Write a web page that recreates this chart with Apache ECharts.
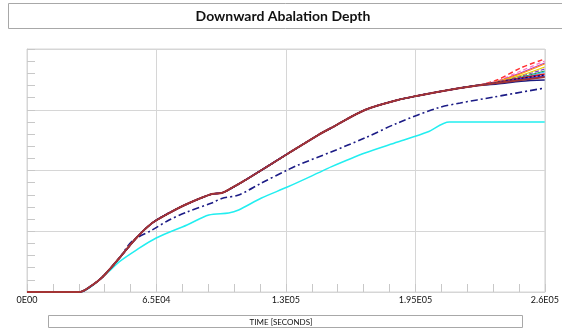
<!DOCTYPE html>
<html>
<head>
<meta charset="utf-8">
<script src="https://cdn.jsdelivr.net/npm/echarts@6/dist/echarts.min.js"></script>
<style>
	html, body { margin: 0; padding: 0; background: #fff; }
	#chart { width: 562px; height: 331px; }
</style>
</head>
<body>
<div id="chart"></div>
<script>
// x tick labels
var xTicks = [0, 65000, 130000, 195000, 260000];
var xLabels = ['0E00', '6.5E04', '1.3E05', '1.95E05', '2.6E05'];

// common part of the ensemble (brown bundle)
var baseT = [0, 26440, 31400, 37910, 46390, 54870, 62860, 71340, 80320, 92790, 97770, 102760, 109750, 130700, 146160, 152650, 169610, 186070, 195550, 206020, 217500, 226000];
var baseV = [0, 0, 0.082, 0.247, 0.560, 0.889, 1.136, 1.300, 1.449, 1.613, 1.630, 1.712, 1.844, 2.272, 2.584, 2.700, 2.996, 3.160, 3.226, 3.292, 3.358, 3.400];

// the runs split apart at the end
var tailT = [236000, 248000, 259900];
var tailRedDash = [3.490, 3.690, 3.835];
var tailPink = [3.473, 3.640, 3.802];
var tailMagenta = [3.465, 3.610, 3.770];
var tailOrange = [3.465, 3.595, 3.753];
var tailYellow = [3.457, 3.565, 3.704];
var tailPurple = [3.457, 3.550, 3.671];
var tailGreen = [3.449, 3.535, 3.638];
var tailSky = [3.449, 3.523, 3.621];
var tailRed = [3.449, 3.523, 3.589];
var tailBlue = [3.440, 3.506, 3.556];
var tailNavyDot = [3.449, 3.515, 3.572];
var tailDarkBlue = [3.424, 3.470, 3.490];
var tailBrown = [3.440, 3.490, 3.539];

// dash-dot run
var navyT = [0, 26440, 31400, 37910, 46390, 52880, 62860, 71340, 80320, 92790, 97770, 106250, 117730, 130700, 136190, 152650, 169610, 186070, 206020, 217500, 234460, 259900];
var navyV = [0, 0, 0.082, 0.247, 0.560, 0.840, 1.021, 1.185, 1.317, 1.465, 1.540, 1.597, 1.794, 2.008, 2.091, 2.305, 2.535, 2.782, 3.029, 3.111, 3.210, 3.358];

// lowest run
var cyanT = [0, 27000, 31900, 37910, 41400, 46390, 54870, 64850, 80320, 91290, 101270, 106250, 117730, 130700, 146160, 152650, 169610, 186070, 201040, 212010, 259900];
var cyanV = [0, 0, 0.082, 0.247, 0.346, 0.500, 0.691, 0.889, 1.103, 1.267, 1.300, 1.350, 1.547, 1.728, 1.960, 2.060, 2.288, 2.469, 2.634, 2.798, 2.798];

function pairs(t, v){
	var out = [];
	for(var i = 0; i < t.length; i++){
		out.push([t[i], v[i]]);
	}
	return out;
}
function run(tail){
	return pairs(baseT.concat(tailT), baseV.concat(tail));
}
function line(name, data, color, width, type, z){
	return {
		name: name,
		type: 'line',
		data: data,
		showSymbol: false,
		smooth: 0.3,
		z: z || 2,
		lineStyle: { color: color, width: width, type: type || 'solid' }
	};
}

var chart = echarts.init(document.getElementById('chart'));
var gridColor = '#d6d6d6';
var axisLine = { show: true, lineStyle: { color: gridColor } };
var smallTick = { show: true, inside: true, length: 4, lineStyle: { color: '#c8c8c8' } };

// tick-only axes, shifted 4px into the frame so the ticks end on the border
function xTickAxis(pos){
	return {
		type: 'value', position: pos, offset: -4, min: 0, max: 260000, interval: 13000,
		axisLine: { show: false }, axisTick: smallTick,
		splitLine: { show: false }, axisLabel: { show: false }
	};
}
function yTickAxis(pos){
	return {
		type: 'value', position: pos, offset: -4, min: 0, max: 4, interval: 0.2,
		axisLine: { show: false }, axisTick: smallTick,
		splitLine: { show: false }, axisLabel: { show: false }
	};
}

chart.setOption({
	animation: false,
	graphic: [
		{ type: 'rect', shape: { x: 8.5, y: 3.5, width: 560, height: 25 }, style: { fill: '#fff', stroke: '#a8a8a8', lineWidth: 1 } },
		{ type: 'text', x: 283, y: 16, style: { text: 'Downward Abalation Depth', fill: '#111', font: 'bold 14px Lato', textAlign: 'center', textVerticalAlign: 'middle' } },
		{ type: 'rect', shape: { x: 48.5, y: 315.5, width: 474, height: 12 }, style: { fill: '#fff', stroke: '#a8a8a8', lineWidth: 1 } },
		{ type: 'text', x: 281, y: 322, style: { text: 'TIME [SECONDS]', fill: '#111', font: '8px Lato', textAlign: 'center', textVerticalAlign: 'middle' } }
	],
	grid: { left: 27, right: 13, top: 49, bottom: 39, show: true, borderColor: gridColor, borderWidth: 1 },
	xAxis: [{
		type: 'value', position: 'bottom', min: 0, max: 260000, interval: 65000,
		axisLine: axisLine,
		axisTick: { show: false },
		splitLine: { show: true, lineStyle: { color: gridColor } },
		axisLabel: {
			margin: 4, fontSize: 9, color: '#111', fontFamily: 'Lato',
			formatter: function(v){ return xLabels[xTicks.indexOf(v)]; }
		}
	}, xTickAxis('bottom'), xTickAxis('top')],
	yAxis: [{
		type: 'value', position: 'left', min: 0, max: 4, interval: 1,
		axisLine: axisLine,
		axisTick: { show: false },
		splitLine: { show: true, lineStyle: { color: gridColor } },
		axisLabel: { show: false }
	}, yTickAxis('left'), yTickAxis('right')],
	series: [
		line('cyan', pairs(cyanT, cyanV), '#22eef0', 1.5),
		line('navy', pairs(navyT, navyV), '#1c1c86', 1.6, [7, 3, 2, 3]),
		line('r1', run(tailRedDash), '#ff3030', 1.5, [5, 3]),
		line('r2', run(tailPink), '#ff70c0', 1.2, [4, 3]),
		line('r3', run(tailMagenta), '#c030c0', 1.2),
		line('r4', run(tailOrange), '#ff9a10', 1.2),
		line('r5', run(tailYellow), '#e6d000', 1.2),
		line('r6', run(tailPurple), '#8040c0', 1.2, [4, 2]),
		line('r7', run(tailGreen), '#20a040', 1.2),
		line('r8', run(tailSky), '#30b8ff', 1.2),
		line('r9', run(tailRed), '#e01818', 1.5),
		line('r10', run(tailBlue), '#2040ff', 1.5),
		line('r11', run(tailDarkBlue), '#1c1c80', 1.5),
		line('r12', run(tailNavyDot), '#000080', 1.5, [2, 2], 3),
		line('r13', run(tailBrown), '#a33434', 2, 'solid', 4)
	]
});
</script>
</body>
</html>
